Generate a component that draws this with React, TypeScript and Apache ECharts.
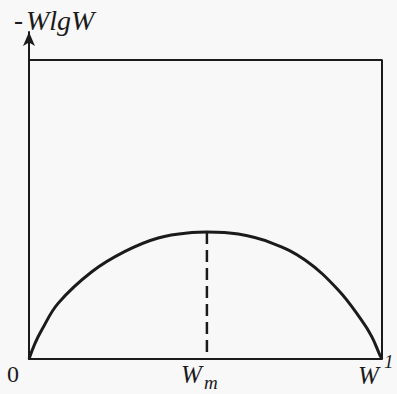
import React, { useEffect, useRef } from "react";
import * as echarts from "echarts";

// Sampled -W lg W curve (normalized to the frame height)
const wValues = [0, 0.017, 0.036, 0.083, 0.178, 0.272, 0.366, 0.461, 0.504, 0.593, 0.688, 0.782, 0.876, 0.942, 0.971, 0.994, 1];
const hValues = [0, 0.052, 0.097, 0.187, 0.292, 0.36, 0.405, 0.423, 0.425, 0.418, 0.388, 0.331, 0.231, 0.13, 0.075, 0.013, 0];
const wMax = 0.504;
const hMax = 0.425;
const frameTop = 1;
const yLimit = 1.094;

const serif = "'Liberation Serif', 'Times New Roman', serif";
const ink = "#1b1b1b";

function txt(left: number, top: number, text: string, size: number, italic: boolean) {
  return {
    type: "text",
    left,
    top,
    style: {
      text,
      font: `${italic ? "italic " : ""}${size}px ${serif}`,
      fill: ink,
    },
  };
}

export default function App() {
  const ref = useRef<HTMLDivElement>(null);
  useEffect(() => {
    if (!ref.current) return;
    const chart = echarts.init(ref.current, null, { renderer: "svg" });
    const curve = wValues.map((w, i) => [w, hValues[i]]);
    chart.setOption({
      animation: false,
      backgroundColor: "#f8f8f8",
      grid: { left: 29, right: 15, top: 32, bottom: 35 },
      xAxis: {
        type: "value",
        min: 0,
        max: 1,
        axisLine: { show: true, onZero: false, lineStyle: { color: ink, width: 2 } },
        axisTick: { show: false },
        axisLabel: { show: false },
        splitLine: { show: false },
      },
      yAxis: {
        type: "value",
        min: 0,
        max: yLimit,
        axisLine: {
          show: true,
          onZero: false,
          symbol: ["none", "arrow"],
          symbolSize: [9, 14],
          lineStyle: { color: ink, width: 2 },
        },
        axisTick: { show: false },
        axisLabel: { show: false },
        splitLine: { show: false },
      },
      series: [
        {
          type: "line",
          data: [[0, frameTop], [1, frameTop], [1, 0]],
          symbol: "none",
          lineStyle: { color: ink, width: 2 },
          silent: true,
        },
        {
          type: "line",
          data: curve,
          smooth: 0.4,
          symbol: "none",
          lineStyle: { color: ink, width: 3 },
        },
        {
          type: "line",
          data: [[wMax, hMax], [wMax, 0.02]],
          symbol: "none",
          lineStyle: { color: ink, width: 2.5, type: [12, 6] },
        },
      ],
      graphic: [
        txt(14, 6, "-", 27, false),
        txt(26, 6, "WlgW", 28, true),
        txt(7, 362, "0", 24, false),
        txt(181, 362, "W", 25, true),
        txt(204, 373, "m", 19, true),
        txt(358, 363, "W", 25, true),
        txt(384, 352, "1", 19, true),
      ],
    });
    return () => chart.dispose();
  }, []);
  return (
    <div
      ref={ref}
      style={{ position: "fixed", left: 0, top: 0, width: 397, height: 394 }}
    />
  );
}
